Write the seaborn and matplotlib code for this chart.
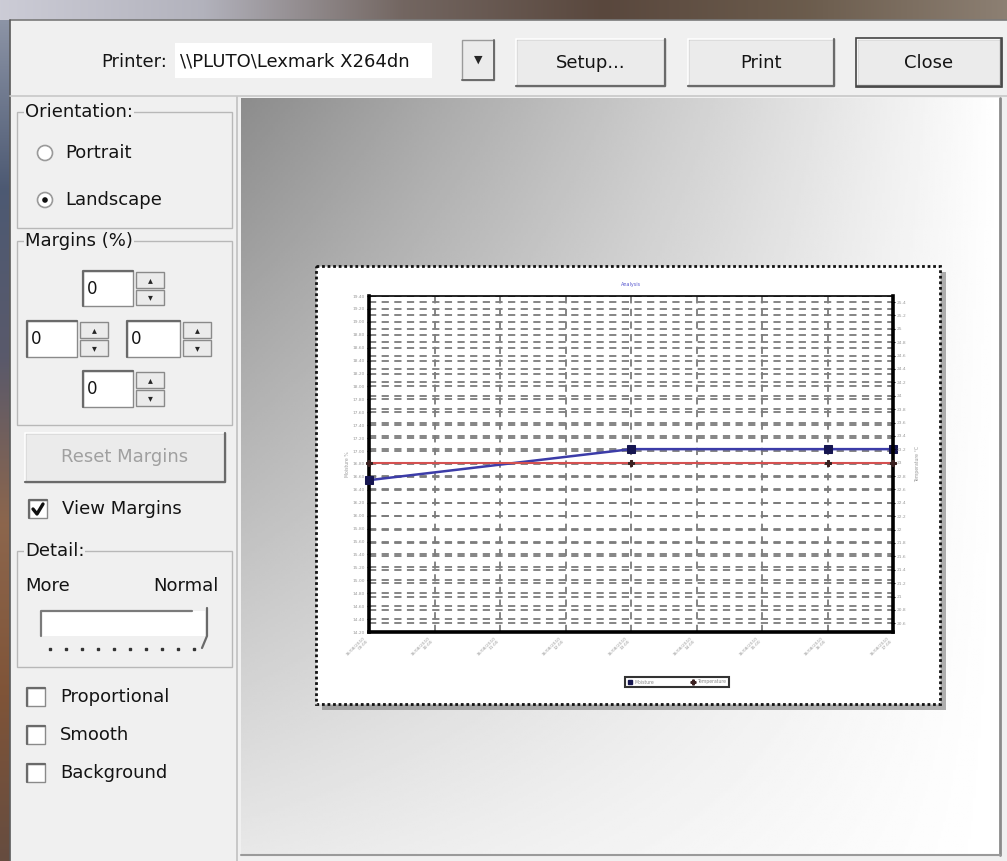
import numpy as np
import pandas as pd
import matplotlib
matplotlib.use('Agg')
import matplotlib.pyplot as plt
import matplotlib.transforms as mtrans
from matplotlib.patches import Rectangle, Circle
from matplotlib.lines import Line2D
import seaborn as sns

# --- chart data ---
sample_times = ['2010-08-16 09:00', '2010-08-16 13:00', '2010-08-16 16:00', '2010-08-16 17:00']
moisture = [16.55, 17.03, 17.03, 17.03]
temperature = [23.0, 23.0, 23.0, 23.0]
tick_times = ['2010-08-16 09:00', '2010-08-16 10:00', '2010-08-16 11:00', '2010-08-16 12:00',
              '2010-08-16 13:00', '2010-08-16 14:00', '2010-08-16 15:00', '2010-08-16 16:00',
              '2010-08-16 17:00']
moisture_ticks = [14.2, 14.4, 14.6, 14.8, 15.0, 15.2, 15.4, 15.6, 15.8, 16.0, 16.2, 16.4, 16.6,
                  16.8, 17.0, 17.2, 17.4, 17.6, 17.8, 18.0, 18.2, 18.4, 18.6, 18.8, 19.0, 19.2, 19.4]
temp_ticks = [20.6, 20.8, 21.0, 21.2, 21.4, 21.6, 21.8, 22.0, 22.2, 22.4, 22.6, 22.8, 23.0,
              23.2, 23.4, 23.6, 23.8, 24.0, 24.2, 24.4, 24.6, 24.8, 25.0, 25.2, 25.4]
temp_limits = (20.47, 25.49)

W, H = 1007, 861
UI_BG = '#f0f0f0'

sns.set_style('white')
plt.rcParams['font.family'] = ['DejaVu Sans']

fig = plt.figure(figsize=(W / 100, H / 100), dpi=100)
bg = fig.add_axes([0, 0, 1, 1])
bg.set_xlim(0, W)
bg.set_ylim(H, 0)
bg.axis('off')
bg.add_patch(Rectangle((0, 0), W, H, fc=UI_BG, ec='none', zorder=0))


def box(x0, y0, x1, y1, **kw):
    bg.add_patch(Rectangle((x0, y0), x1 - x0, y1 - y0, **kw))


def label(x, y, s, size=13, color='#141414', ha='left', **kw):
    bg.text(x, y, s, fontsize=size, color=color, ha=ha, va='center', **kw)


def button(x0, y0, x1, y1, text, default=False, color='#141414'):
    box(x0, y0, x1, y1, fc='#ebebeb', ec='#a0a0a0', lw=1, zorder=2)
    bg.plot([x0, x0, x1], [y1, y0, y0], color='white', lw=1.3, zorder=3)
    bg.plot([x0, x1, x1], [y1, y1, y0], color='#6a6a6a', lw=1.6, zorder=3)
    if default:
        box(x0 - 1, y0 - 1, x1 + 1, y1 + 1, fc='none', ec='#444444', lw=1.2, zorder=3)
    label((x0 + x1) / 2, (y0 + y1) / 2, text, ha='center', color=color, zorder=4)


def group(x0, y0, x1, y1, title):
    box(x0, y0, x1, y1, fc='none', ec='#b8b8b8', lw=1, zorder=2)
    bg.text(x0 + 8, y0, title, fontsize=13, color='#141414', va='center', zorder=3,
            bbox=dict(fc=UI_BG, ec='none', pad=0.5))


def checkbox(x, y, text, checked=False):
    box(x, y - 9, x + 18, y + 9, fc='white', ec='#8a8a8a', lw=1, zorder=2)
    bg.plot([x, x, x + 18], [y + 9, y - 9, y - 9], color='#6a6a6a', lw=1.6, zorder=3)
    if checked:
        bg.plot([x + 4, x + 8, x + 14], [y, y + 5, y - 5], color='#111111', lw=2.4, zorder=4)
    label(x + 33, y, text, zorder=4)


def radio(x, y, text, checked=False):
    bg.add_patch(Circle((x, y), 7.5, fc='white', ec='#9a9a9a', lw=1.2, zorder=2))
    if checked:
        bg.add_patch(Circle((x, y), 2.8, fc='#111111', ec='none', zorder=3))
    label(x + 20, y, text, zorder=4)


def spinbox(x0, y0, x1, y1):
    box(x0, y0, x1, y1, fc='white', ec='#8a8a8a', lw=1, zorder=2)
    bg.plot([x0, x0, x1], [y1, y0, y0], color='#6a6a6a', lw=1.6, zorder=3)
    label(x0 + 4, (y0 + y1) / 2, '0', size=12, zorder=4)
    sx0, sx1 = x1 + 3, x1 + 31
    ym = (y0 + y1) / 2
    for a, b in ((y0, ym), (ym, y1)):
        box(sx0, a + 1, sx1, b - 1, fc='#ebebeb', ec='#8a8a8a', lw=1, zorder=2)
    bg.text((sx0 + sx1) / 2, (y0 + ym) / 2, '\u25b4', fontsize=7, ha='center', va='center', zorder=4)
    bg.text((sx0 + sx1) / 2, (ym + y1) / 2, '\u25be', fontsize=7, ha='center', va='center', zorder=4)


# --- window surroundings (blurred desktop) ---
top_cols = np.array([[0.80, 0.80, 0.84], [0.70, 0.70, 0.74], [0.45, 0.40, 0.38],
                     [0.35, 0.28, 0.24], [0.42, 0.36, 0.30], [0.55, 0.50, 0.45]])
xs = np.linspace(0, len(top_cols) - 1, 400)
strip = np.stack([np.interp(xs, np.arange(len(top_cols)), top_cols[:, c]) for c in range(3)], -1)
bg.imshow(strip[None, :, :], extent=(0, W, 20, 0), aspect='auto', zorder=1)
side_cols = np.array([[0.55, 0.58, 0.65], [0.30, 0.35, 0.45], [0.35, 0.35, 0.42],
                      [0.55, 0.40, 0.30], [0.50, 0.33, 0.22], [0.40, 0.30, 0.25]])
ys = np.linspace(0, len(side_cols) - 1, 400)
side = np.stack([np.interp(ys, np.arange(len(side_cols)), side_cols[:, c]) for c in range(3)], -1)
bg.imshow(side[:, None, :], extent=(0, 10, H, 20), aspect='auto', zorder=1)
bg.plot([10, W], [20, 20], color='#7a7a7a', lw=1.2, zorder=2)
bg.plot([10, 10], [20, H], color='#5a5a5a', lw=1.2, zorder=2)

# --- toolbar ---
label(167, 62, 'Printer:', ha='right')
box(175, 43, 432, 78, fc='white', ec='none', zorder=2)
label(180, 61, '\\\\PLUTO\\Lexmark X264dn', zorder=3)
box(462, 40, 494, 80, fc='#ebebeb', ec='#9a9a9a', lw=1, zorder=2)
bg.plot([494, 494, 462], [40, 80, 80], color='#6a6a6a', lw=1.4, zorder=3)
bg.text(478, 60, '\u25bc', fontsize=8, ha='center', va='center', zorder=4)
button(516, 39, 665, 86, 'Setup...')
button(688, 39, 834, 86, 'Print')
button(857, 39, 1001, 86, 'Close', default=True)
bg.plot([10, W], [96, 96], color='#c8c8c8', lw=1.2, zorder=2)

# --- left panel ---
group(17, 112, 232, 228, 'Orientation:')
radio(45, 153, 'Portrait')
radio(45, 200, 'Landscape', checked=True)
group(17, 241, 232, 425, 'Margins (%)')
spinbox(83, 271, 133, 306)
spinbox(27, 321, 77, 357)
spinbox(127, 321, 180, 357)
spinbox(83, 371, 133, 407)
button(25, 433, 225, 482, 'Reset Margins', color='#a0a0a0')
checkbox(29, 509, 'View Margins', checked=True)
group(17, 551, 232, 667, 'Detail:')
label(25, 586, 'More')
label(219, 586, 'Normal', ha='right')
box(41, 611, 205, 636, fc='white', ec='none', zorder=2)
bg.plot([41, 41, 192], [636, 611, 611], color='#7a7a7a', lw=1.6, zorder=3)
bg.plot([207, 207, 202], [608, 636, 648], color='#6a6a6a', lw=1.6, zorder=3)
for i in range(10):
    bg.plot(50 + i * 16, 649, marker='s', ms=1.6, color='#333333', zorder=3)
checkbox(27, 697, 'Proportional')
checkbox(27, 735, 'Smooth')
checkbox(27, 773, 'Background')
bg.plot([237, 237], [97, H], color='#c0c0c0', lw=1.2, zorder=2)

# --- preview area gradient ---
U, V = np.meshgrid(np.linspace(0, 1, 300), np.linspace(0, 1, 300))
shade = 1 - 0.45 * (1 - U) * (1 - 0.8 * V)
bg.imshow(shade, cmap='gray', vmin=0, vmax=1, extent=(241, 1000, 855, 98), aspect='auto', zorder=1)
bg.plot([1000, 1000], [98, 855], color='#8a8a8a', lw=2, zorder=2)
bg.plot([241, 1000], [855, 855], color='#9a9a9a', lw=1.5, zorder=2)

# --- paper ---
box(322, 272, 946, 710, fc='#6e6e6e', ec='none', alpha=0.55, zorder=3)
box(316, 266, 940, 704, fc='white', ec='#111111', lw=2, ls=(0, (1, 1)), zorder=4)

# --- chart ---
ax = fig.add_axes([369 / W, 1 - 632 / H, (893 - 369) / W, (632 - 296) / H])
ax2 = ax.twinx()
df = pd.DataFrame({'time': pd.to_datetime(sample_times), 'moisture': moisture,
                   'temperature': temperature})
ticks = pd.to_datetime(tick_times)

ax.set_ylim(moisture_ticks[0], moisture_ticks[-1])
ax2.set_ylim(*temp_limits)
ax.set_xlim(ticks[0], ticks[-1])

grid_kw = dict(color='#7c7c7c', lw=1.3, ls=(0, (4, 3)), zorder=1)
ax.hlines(moisture_ticks, 0, 1, transform=ax.get_yaxis_transform(), **grid_kw)
ax.hlines(temp_ticks, 0, 1, transform=mtrans.blended_transform_factory(ax.transAxes, ax2.transData),
          **grid_kw)
ax.vlines(ticks, 0, 1, transform=ax.get_xaxis_transform(), **grid_kw)

sns.lineplot(data=df, x='time', y='moisture', ax=ax, color='#3c3ca8', lw=1.8, marker='s',
             markersize=5.5, markerfacecolor='#161650', markeredgecolor='#161650', zorder=5,
             clip_on=False)
sns.lineplot(data=df, x='time', y='temperature', ax=ax2, color='#d45050', lw=1.5, marker='P',
             markersize=4, markerfacecolor='#3a2020', markeredgecolor='#3a2020', zorder=5,
             clip_on=False)
ax.set_ylim(moisture_ticks[0], moisture_ticks[-1])
ax2.set_ylim(*temp_limits)
ax.set_xlim(ticks[0], ticks[-1])

ax.set_yticks(moisture_ticks)
ax.set_yticklabels(['%.2f' % v for v in moisture_ticks])
ax2.set_yticks(temp_ticks)
ax2.set_yticklabels(['%g' % v for v in temp_ticks])
ax.set_xticks(ticks)
ax.set_xticklabels([t.strftime('%d/%m/%Y\n%H:%M') for t in ticks], rotation=45, ha='right')
for a in (ax, ax2):
    a.tick_params(labelsize=3.2, labelcolor='#9a9a9a', length=3, width=0.8,
                  direction='inout', color='black', pad=1.5)
ax.set_xlabel('')
ax.set_ylabel('Moisture %', fontsize=3.3, color='#9a9a9a', labelpad=2)
ax2.set_ylabel('Temperature \u00b0C', fontsize=3.3, color='#9a9a9a', labelpad=6)
ax.set_title('Analysis', fontsize=3.5, color='#5a5ad0', pad=7)

for side_name, lw in (('left', 2.6), ('bottom', 2.6), ('top', 1.2)):
    ax.spines[side_name].set_linewidth(lw)
    ax.spines[side_name].set_color('black')
ax.spines['right'].set_visible(False)
for side_name in ('left', 'bottom', 'top'):
    ax2.spines[side_name].set_visible(False)
ax2.spines['right'].set_linewidth(2.6)
ax2.spines['right'].set_color('black')

handles = [Line2D([], [], ls='none', marker='s', ms=3, color='#161650'),
           Line2D([], [], ls='none', marker='P', ms=3.5, color='#3a2020')]
leg = fig.legend(handles, ['Moisture', 'Temperature'], loc='center',
                 bbox_to_anchor=(677 / W, 1 - 682 / H), ncol=2, fontsize=3.3,
                 frameon=True, fancybox=False, edgecolor='black', handlelength=0.8,
                 handletextpad=0.6, columnspacing=8, borderpad=0.6, labelcolor='#8a8a8a')
leg.get_frame().set_linewidth(1.5)
leg.set_zorder(10)

fig.savefig('out.png', dpi=100)
